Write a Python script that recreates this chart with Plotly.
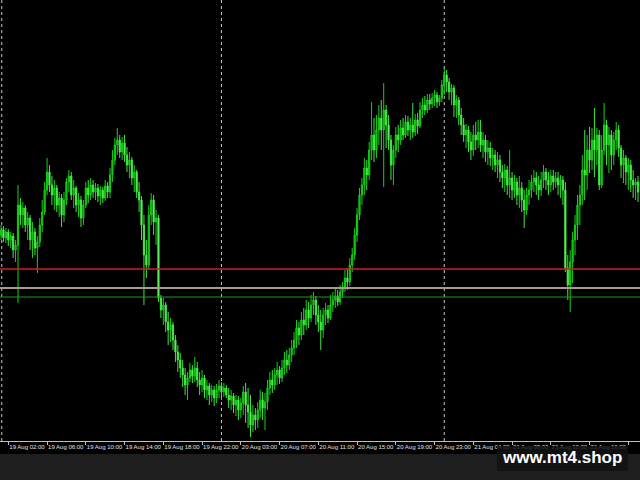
import plotly.graph_objects as go

# ---- data (15-minute bars, price in chart points) ----
open_ = [205,210,202,208,200,204,190,195,235,225,
         232,215,222,200,208,192,198,215,228,250,
         268,255,245,252,235,242,225,240,258,264,
         245,252,235,240,222,235,252,245,255,248,
         252,244,250,242,254,248,265,280,295,300,
         288,297,285,275,280,262,268,248,240,215,
         185,175,225,240,218,222,142,130,135,118,
         110,115,100,88,80,72,65,55,62,70,
         64,72,60,55,62,50,54,45,50,42,
         50,54,48,52,45,40,44,35,40,30,
         37,48,35,28,15,25,20,30,40,32,
         38,52,60,55,65,70,62,72,80,75,
         85,92,100,112,105,120,115,130,122,135,
         140,125,118,110,125,130,122,135,140,144,
         138,148,152,162,158,175,185,205,225,245,
         255,272,265,290,305,290,310,322,310,330,
         315,300,275,290,305,300,312,305,318,310,
         315,308,320,314,330,335,330,340,336,342,
         345,338,342,355,365,358,348,352,335,340,
         325,315,305,310,298,290,305,300,308,295,
         300,288,292,282,285,275,280,268,262,270,
         255,262,250,258,245,252,240,230,245,250,
         258,262,255,250,260,268,260,255,264,258,
         262,255,260,250,172,155,178,200,215,235,
         245,270,265,290,280,300,290,305,255,290,
         315,295,305,285,300,310,292,275,282,268,
         275,260,255,258]
high = [215,214,212,211,208,207,200,255,242,238,
        235,228,225,218,212,204,222,240,258,282,
        275,264,260,255,248,246,248,262,270,268,
        260,254,247,244,240,258,260,262,260,257,
        256,254,253,260,258,272,290,302,312,305,
        303,305,293,288,283,275,270,258,244,225,
        200,235,247,245,230,225,145,142,138,128,
        122,118,105,95,87,80,72,68,77,75,
        83,78,68,70,65,60,57,55,54,56,
        60,58,57,55,52,50,47,45,44,42,
        54,57,52,45,35,32,38,50,48,47,
        60,68,70,72,78,74,80,88,90,92,
        100,108,120,118,128,132,140,138,145,148,
        144,135,130,132,137,135,145,148,152,150,
        155,158,170,172,182,192,212,232,252,262,
        282,280,298,338,322,325,335,340,357,335,
        325,305,295,313,315,320,322,325,324,322,
        337,326,327,338,342,344,346,346,347,350,
        348,345,360,373,370,362,356,355,345,343,
        332,322,316,314,308,315,318,320,320,308,
        305,300,298,292,290,288,285,275,276,274,
        290,268,265,262,264,258,250,252,260,265,
        270,268,264,268,275,272,268,270,270,268,
        268,265,264,258,185,190,208,225,245,255,
        285,310,305,313,312,332,312,310,305,337,
        320,313,310,308,318,315,295,290,285,282,
        280,270,262,264]
low = [200,198,197,194,192,182,178,137,215,212,
       208,200,190,182,185,167,193,208,225,245,
       248,235,230,228,223,213,218,235,248,240,
       232,228,223,213,215,232,237,240,242,240,
       238,235,237,239,242,242,258,275,285,282,
       280,278,268,262,255,248,242,228,200,135,
       162,170,215,205,195,138,122,115,108,95,
       98,90,78,68,62,53,45,40,58,57,
       58,53,45,48,42,40,35,38,34,37,
       42,40,43,42,32,30,27,24,20,22,
       25,17,12,3,8,10,12,22,20,10,
       30,45,47,50,55,56,58,65,67,70,
       78,85,92,95,100,105,110,112,118,125,
       115,108,90,102,115,117,120,128,132,134,
       135,142,148,150,154,168,180,198,220,235,
       245,250,260,280,278,282,295,290,253,292,
       290,260,255,282,288,295,300,302,304,300,
       302,304,306,312,322,325,327,330,332,334,
       332,334,338,345,348,340,335,323,322,315,
       305,298,292,288,280,284,290,292,288,282,
       278,275,274,270,268,262,258,252,248,245,
       242,240,242,235,232,228,212,225,235,242,
       248,245,240,244,252,250,245,248,250,252,
       245,242,235,168,140,128,157,185,200,215,
       235,240,250,267,270,263,275,250,252,285,
       275,267,270,275,290,283,262,257,255,250,
       248,242,240,238]
close = [210,202,208,200,204,190,195,235,225,232,
         215,222,200,208,192,198,215,228,250,268,
         255,245,252,235,242,225,240,258,264,245,
         252,235,240,222,235,252,245,255,248,252,
         244,250,242,254,248,265,280,295,300,288,
         297,285,275,280,262,268,248,240,215,185,
         175,225,240,218,222,142,130,135,118,110,
         115,100,88,80,72,65,55,62,70,64,
         72,60,55,62,50,54,45,50,42,50,
         54,48,52,45,40,44,35,40,30,37,
         48,35,28,15,25,20,30,40,32,38,
         52,60,55,65,70,62,72,80,75,85,
         92,100,112,105,120,115,130,122,135,140,
         125,118,110,125,130,122,135,140,144,138,
         148,152,162,158,175,185,205,225,245,255,
         272,265,290,305,290,310,322,310,330,315,
         300,275,290,305,300,312,305,318,310,315,
         308,320,314,330,335,330,340,336,342,345,
         338,342,355,365,358,348,352,335,340,325,
         315,305,310,298,290,305,300,308,295,300,
         288,292,282,285,275,280,268,262,270,255,
         262,250,258,245,252,240,230,245,250,258,
         262,255,250,260,268,260,255,264,258,262,
         255,260,250,172,155,178,200,215,235,245,
         270,265,290,280,300,290,305,255,290,315,
         295,305,285,300,310,292,275,282,268,275,
         260,255,258,248]

tick_bars = [3, 19, 35, 51, 67, 83, 99, 115, 131, 147, 163, 179, 195, 211, 227, 243, 259]
tick_labels = ["19 Aug 02:00", "19 Aug 06:00", "19 Aug 10:00", "19 Aug 14:00",
               "19 Aug 18:00", "19 Aug 22:00", "20 Aug 03:00", "20 Aug 07:00",
               "20 Aug 11:00", "20 Aug 15:00", "20 Aug 19:00", "20 Aug 23:00",
               "21 Aug 04:00", "21 Aug 08:00", "21 Aug 12:00", "21 Aug 16:00",
               "21 Aug 20:00"]
day_separators = [0.3, 91, 183]
levels = [171, 152, 143]
level_colors = ["#d02020", "#a89c8c", "#1e9a1e"]
level_widths = [1.3, 2, 1]

bar_index = list(range(len(close)))

fig = go.Figure()
fig.add_trace(go.Candlestick(
    x=bar_index, open=open_, high=high, low=low, close=close,
    increasing=dict(line=dict(color="#14d214", width=1), fillcolor="#0aa50a"),
    decreasing=dict(line=dict(color="#3ee83e", width=1), fillcolor="#9cf59c"),
    whiskerwidth=0, hoverinfo="skip"))

shapes = []
# gray strip at bottom
shapes.append(dict(type="rect", xref="paper", yref="paper", x0=0, x1=1,
                   y0=(441 - 454) / 441, y1=(441 - 482) / 441,
                   fillcolor="#1e1e1e", line=dict(width=0), layer="below"))
for d in day_separators:
    shapes.append(dict(type="line", xref="x", yref="paper", x0=d, x1=d, y0=0, y1=1,
                       line=dict(color="#c8c8c8", width=1, dash="dot"), layer="below"))
for lv, c, w in zip(levels, level_colors, level_widths):
    shapes.append(dict(type="line", xref="paper", yref="y", x0=0, x1=1, y0=lv, y1=lv,
                       line=dict(color=c, width=w), layer="above"))
# watermark box
shapes.append(dict(type="rect", xref="paper", yref="paper",
                   x0=497 / 640, x1=628 / 640, y0=(441 - 446) / 441, y1=(441 - 471) / 441,
                   fillcolor="rgba(18,18,18,0.85)", line=dict(width=0), layer="above"))

fig.update_layout(
    width=640, height=480,
    margin=dict(l=0, r=0, t=0, b=39),
    paper_bgcolor="#000000", plot_bgcolor="#000000",
    showlegend=False,
    shapes=shapes,
    annotations=[dict(text="<b>www.mt4.shop</b>", xref="paper", yref="paper",
                      x=562 / 640, y=(441 - 458) / 441, xanchor="center", yanchor="middle",
                      showarrow=False,
                      font=dict(family="Liberation Sans, Arial", size=17, color="#ffffff"))],
    xaxis=dict(range=[-0.43, 263.82], rangeslider=dict(visible=False),
               tickmode="array", tickvals=tick_bars, ticktext=tick_labels,
               ticks="outside", ticklen=3, tickcolor="#c0c0c0", tickangle=0,
               ticklabelposition="outside right",
               tickfont=dict(family="Liberation Sans, Arial", size=6, color="#e0e0e0"),
               showline=True, linecolor="#c0c0c0", linewidth=1,
               showgrid=False, zeroline=False, fixedrange=True, automargin=False),
    yaxis=dict(range=[-1, 440], visible=False, showgrid=False, zeroline=False,
               fixedrange=True),
)

fig.write_html("out.html", config={"displayModeBar": False},
               post_script="document.body.style.margin='0';document.body.style.padding='0';"
                           "document.body.style.background='#000';")
